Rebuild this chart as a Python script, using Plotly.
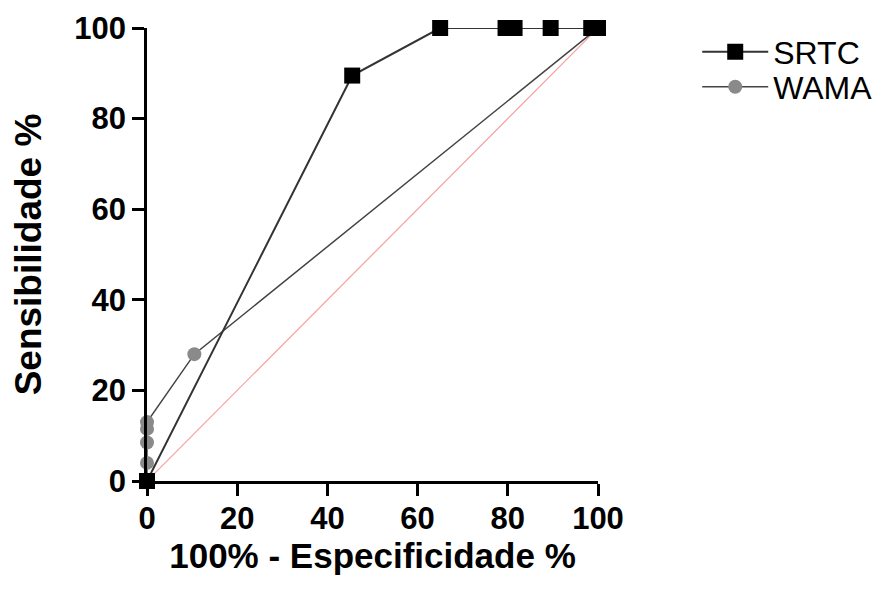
import plotly.graph_objects as go

srtc_x = [0, 45.5, 65, 79.5, 81.5, 89.5, 98.5, 100]
srtc_y = [0, 89.5, 100, 100, 100, 100, 100, 100]

wama_x = [0, 0, 0, 0, 0, 10.5, 100]
wama_y = [0, 4, 8.5, 11.5, 13, 28, 100]

ref_x = [0, 100]
ref_y = [0, 100]

tick_vals = [0, 20, 40, 60, 80, 100]

fig = go.Figure()
fig.add_trace(go.Scatter(x=ref_x, y=ref_y, mode="lines",
                         line=dict(color="#f4a0a0", width=1.2),
                         showlegend=False, hoverinfo="skip", cliponaxis=False))
fig.add_trace(go.Scatter(x=wama_x, y=wama_y, mode="lines+markers", name="WAMA",
                         line=dict(color="#444444", width=1.5),
                         marker=dict(symbol="circle", size=14, color="#8a8a8a"),
                         cliponaxis=False, legend="legend2"))
fig.add_trace(go.Scatter(x=srtc_x, y=srtc_y, mode="lines+markers", name="SRTC",
                         line=dict(color="#333333", width=2),
                         marker=dict(symbol="square", size=16, color="#000000"),
                         cliponaxis=False, legend="legend"))

axis_common = dict(
    showgrid=False, zeroline=False, showline=True, linecolor="black", linewidth=2.5,
    ticks="outside", ticklen=12, tickwidth=2.5, tickcolor="black",
    tickvals=tick_vals, range=[0, 100], automargin=False,
    tickfont=dict(family="Liberation Sans", size=31, color="black", weight="bold"),
)

leg_common = dict(xanchor="left", yanchor="middle",
                  font=dict(family="Liberation Sans", size=32, color="black"),
                  bgcolor="rgba(0,0,0,0)", itemwidth=66)

fig.update_layout(
    width=893, height=594,
    margin=dict(l=139, r=303, t=20, b=121),
    paper_bgcolor="white", plot_bgcolor="white",
    xaxis=dict(**axis_common, ticklabelstandoff=-4,
               title=dict(text="<b>100% - Especificidade %</b>", standoff=0,
                          font=dict(family="Liberation Sans", size=35, color="black"))),
    yaxis=dict(**axis_common,
               title=dict(text="<b>Sensibilidade %</b>", standoff=26,
                          font=dict(family="Liberation Sans", size=37, color="black"))),
    legend=dict(x=1.22, y=0.947, **leg_common),
    legend2=dict(x=1.22, y=0.87, **leg_common),
    showlegend=True,
)

fig.write_html("out.html")
